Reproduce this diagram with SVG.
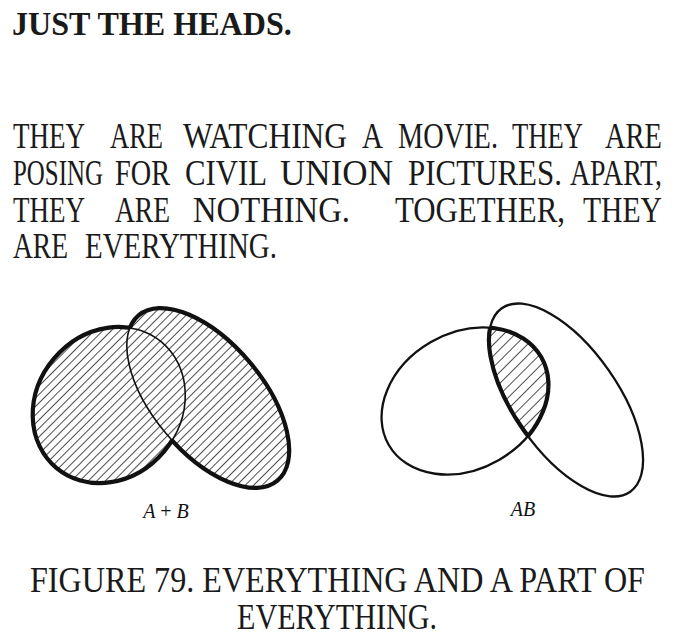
<svg xmlns="http://www.w3.org/2000/svg" width="700" height="641" viewBox="0 0 700 641">
<style>
.title{font-family:"Liberation Serif","DejaVu Serif",serif;font-weight:bold;font-size:33px;fill:#1a1a1a}
.body{font-family:"Liberation Serif","DejaVu Serif",serif;font-size:35px;fill:#1a1a1a}
.lbl{font-family:"Liberation Serif","DejaVu Serif",serif;font-style:italic;font-size:20px;fill:#111}
.thin{fill:none;stroke:#111;stroke-width:1.6}
.thick{fill:none;stroke:#111;stroke-width:4.2}
.mid{fill:none;stroke:#111;stroke-width:2.3}
</style>
<defs>
<pattern id="hatchL" width="6" height="6" patternUnits="userSpaceOnUse" patternTransform="rotate(45)">
<line x1="0" y1="0" x2="0" y2="6" stroke="#111" stroke-width="1.5"/>
</pattern>
<pattern id="hatchR" width="8" height="8" patternUnits="userSpaceOnUse" patternTransform="rotate(45)">
<line x1="0" y1="0" x2="0" y2="8" stroke="#111" stroke-width="1.5"/>
</pattern>
<ellipse id="eA" cx="109" cy="405" rx="82" ry="72" transform="rotate(-50 109 405)"/>
<ellipse id="eB" cx="208" cy="398" rx="108" ry="55" transform="rotate(50 208 398)"/>
<ellipse id="eA2" cx="465" cy="401" rx="88" ry="68" transform="rotate(-30 465 401)"/>
<ellipse id="eB2" cx="566" cy="400" rx="112" ry="52" transform="rotate(55 566 400)"/>
<mask id="outB"><rect width="700" height="641" fill="#fff"/><use href="#eB" fill="#000"/></mask>
<mask id="outA"><rect width="700" height="641" fill="#fff"/><use href="#eA" fill="#000"/></mask>
<clipPath id="unionAB"><use href="#eA"/><use href="#eB"/></clipPath>
<clipPath id="inA2"><use href="#eA2"/></clipPath>
<clipPath id="inB2"><use href="#eB2"/></clipPath>
</defs>
<rect width="700" height="641" fill="#fff"/>
<g id="title" transform="scale(0.9 1)"><text class="title" x="13.33" y="35" textLength="311" lengthAdjust="spacingAndGlyphs">JUST THE HEADS.</text></g>
<g id="body" transform="scale(0.7 1)">
<text class="body" x="18.57" y="148" textLength="102.86" lengthAdjust="spacingAndGlyphs">THEY</text>
<text class="body" x="157.14" y="148" textLength="75.71" lengthAdjust="spacingAndGlyphs">ARE</text>
<text class="body" x="261.43" y="148" textLength="234.29" lengthAdjust="spacingAndGlyphs">WATCHING</text>
<text class="body" x="517.14" y="148" textLength="30" lengthAdjust="spacingAndGlyphs">A</text>
<text class="body" x="568.57" y="148" textLength="142.86" lengthAdjust="spacingAndGlyphs">MOVIE.</text>
<text class="body" x="731.43" y="148" textLength="101.43" lengthAdjust="spacingAndGlyphs">THEY</text>
<text class="body" x="864.29" y="148" textLength="81.43" lengthAdjust="spacingAndGlyphs">ARE</text>

<text class="body" x="18.57" y="185" textLength="128.57" lengthAdjust="spacingAndGlyphs">POSING</text>
<text class="body" x="164.29" y="185" textLength="78.57" lengthAdjust="spacingAndGlyphs">FOR</text>
<text class="body" x="264.29" y="185" textLength="117.14" lengthAdjust="spacingAndGlyphs">CIVIL</text>
<text class="body" x="400" y="185" textLength="161.43" lengthAdjust="spacingAndGlyphs">UNION</text>
<text class="body" x="582.86" y="185" textLength="220" lengthAdjust="spacingAndGlyphs">PICTURES.</text>
<text class="body" x="814.29" y="185" textLength="131.43" lengthAdjust="spacingAndGlyphs">APART,</text>

<text class="body" x="18.57" y="222" textLength="102.86" lengthAdjust="spacingAndGlyphs">THEY</text>
<text class="body" x="164.29" y="222" textLength="78.57" lengthAdjust="spacingAndGlyphs">ARE</text>
<text class="body" x="275.71" y="222" textLength="224.29" lengthAdjust="spacingAndGlyphs">NOTHING.</text>
<text class="body" x="564.29" y="222" textLength="242.86" lengthAdjust="spacingAndGlyphs">TOGETHER,</text>
<text class="body" x="832.86" y="222" textLength="112.86" lengthAdjust="spacingAndGlyphs">THEY</text>

<text class="body" x="18.57" y="258" textLength="78.57" lengthAdjust="spacingAndGlyphs">ARE</text>
<text class="body" x="121.43" y="258" textLength="274.29" lengthAdjust="spacingAndGlyphs">EVERYTHING.</text>
</g>
<g id="fig-sum">
<g clip-path="url(#unionAB)"><rect x="20" y="295" width="280" height="200" fill="url(#hatchL)"/></g>
<use href="#eA" class="thin"/>
<use href="#eB" class="thin"/>
<use href="#eA" class="thick" mask="url(#outB)"/>
<use href="#eB" class="thick" mask="url(#outA)"/>
<text class="lbl" x="166" y="518" text-anchor="middle">A <tspan font-style="normal">+</tspan> B</text>
</g>
<g id="fig-product">
<g clip-path="url(#inA2)"><g clip-path="url(#inB2)"><rect x="470" y="300" width="100" height="150" fill="url(#hatchR)"/></g></g>
<use href="#eA2" class="mid"/>
<use href="#eB2" class="mid"/>
<use href="#eA2" class="thick" clip-path="url(#inB2)"/>
<use href="#eB2" class="thick" clip-path="url(#inA2)"/>
<text class="lbl" x="523" y="516" text-anchor="middle">AB</text>
</g>
<g id="caption" transform="scale(0.85 1)">
<text class="body" x="35.29" y="592" textLength="723.5" lengthAdjust="spacingAndGlyphs">FIGURE 79. EVERYTHING AND A PART OF</text>
<text class="body" x="278.82" y="629" textLength="235.29" lengthAdjust="spacingAndGlyphs">EVERYTHING.</text>
</g>
</svg>
